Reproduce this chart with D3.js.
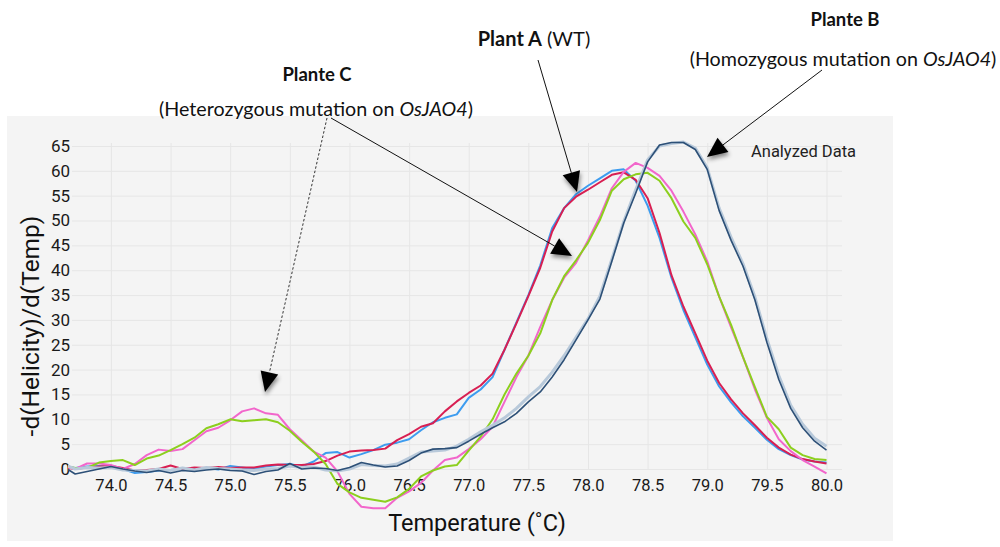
<!DOCTYPE html>
<html>
<head>
<meta charset="utf-8">
<script src="https://cdn.jsdelivr.net/npm/d3@7"></script>
<style>
  html, body { margin: 0; padding: 0; background: #ffffff; }
  svg { display: block; }
</style>
</head>
<body>
<svg id="chart" width="1000" height="547"></svg>
<script>
// Melt-curve derivative traces, one value per 0.1 °C step
const temps = [73.6, 73.7, 73.8, 73.9, 74.0, 74.1, 74.2, 74.3, 74.4, 74.5, 74.6, 74.7, 74.8, 74.9,
  75.0, 75.1, 75.2, 75.3, 75.4, 75.5, 75.6, 75.7, 75.8, 75.9, 76.0, 76.1, 76.2, 76.3, 76.4, 76.5,
  76.6, 76.7, 76.8, 76.9, 77.0, 77.1, 77.2, 77.3, 77.4, 77.5, 77.6, 77.7, 77.8, 77.9, 78.0, 78.1,
  78.2, 78.3, 78.4, 78.5, 78.6, 78.7, 78.8, 78.9, 79.0, 79.1, 79.2, 79.3, 79.4, 79.5, 79.6, 79.7,
  79.8, 79.9, 80.0];

// Plant A (WT), two wells
const plantA1 = [0.5, 0.2, 0.5, 0.6, 0.4, 0.0, -0.8, -0.6, -0.3, -0.2, 0.1, 0.0, 0.2, -0.1,
  0.6, 0.3, 0.0, 0.5, 0.8, 1.0, 0.5, 1.5, 3.2, 3.4, 2.3, 3.0, 3.8, 4.9, 5.3, 6.0,
  7.8, 9.4, 10.3, 11.0, 14.3, 16.0, 18.5, 24.0, 29.5, 35.0, 41.0, 48.5, 52.5, 55.3, 57.0, 58.5,
  60.0, 60.3, 58.0, 53.0, 46.5, 38.5, 32.0, 26.5, 21.0, 16.6, 13.4, 10.6, 8.3, 5.9, 4.0, 2.8,
  1.9, 1.5, 1.3];
const plantA2 = [0.3, 0.0, 0.3, 0.5, 0.6, 0.2, -0.3, -0.2, 0.0, 0.7, 0.0, 0.3, 0.2, 0.4,
  0.2, 0.3, 0.3, 0.7, 0.9, 0.8, 0.8, 1.0, 1.6, 2.7, 3.5, 3.7, 3.8, 4.1, 5.8, 7.0,
  8.5, 9.2, 11.6, 13.6, 15.3, 16.8, 19.2, 24.0, 29.3, 34.8, 40.5, 47.8, 52.5, 54.8, 56.2, 57.7,
  59.2, 59.7, 58.2, 54.5, 47.5, 39.0, 32.7, 27.3, 21.8, 17.3, 14.0, 11.2, 8.8, 6.3, 4.3, 2.9,
  2.0, 1.5, 1.1];

// Plante C (heterozygous), two wells
const plantC1 = [0.5, 0.0, 1.1, 1.1, 0.8, 0.0, 1.0, 2.8, 3.9, 3.6, 4.0, 5.8, 7.6, 8.3,
  9.8, 11.6, 12.2, 11.2, 10.9, 8.0, 5.8, 3.5, 2.3, -0.5, -5.0, -7.6, -7.9, -7.9, -5.8, -4.5,
  -2.8, -0.3, 1.8, 2.3, 4.0, 6.0, 8.5, 13.5, 18.5, 22.8, 28.6, 34.0, 38.5, 41.5, 46.0, 50.8,
  56.5, 59.8, 61.6, 60.6, 59.0, 56.0, 51.8, 47.2, 41.8, 34.7, 28.5, 22.5, 16.0, 10.3, 6.0, 3.6,
  1.8, 0.5, -0.9];
const plantC2 = [0.7, 0.2, 0.2, 1.3, 1.6, 1.8, 0.8, 2.1, 2.7, 3.8, 5.0, 6.3, 8.2, 9.0,
  10.0, 9.6, 9.8, 10.0, 9.4, 7.7, 5.5, 3.5, 1.0, -3.0, -4.7, -5.8, -6.2, -6.6, -5.7, -4.0,
  -1.5, -0.3, 0.5, 0.8, 3.7, 6.5, 10.0, 15.0, 19.2, 22.8, 27.3, 34.0, 38.8, 42.0, 45.5, 50.1,
  56.0, 58.3, 59.3, 59.6, 58.0, 54.5, 49.8, 46.5, 41.2, 34.7, 29.0, 22.5, 16.5, 10.5, 8.0, 4.3,
  2.8, 2.0, 1.8];

// Plante B (homozygous), two wells
const plantB1 = [0.5, -1.0, -0.5, 0.0, 0.5, 0.0, -0.4, -0.7, -0.3, -0.8, -0.3, -0.5, -0.2, 0.0,
  -0.3, -0.4, -1.1, -0.5, -0.2, 1.1, 0.0, 0.2, 0.1, -0.3, 0.3, 1.3, 0.8, 0.4, 0.6, 1.7,
  3.2, 4.0, 4.1, 4.3, 5.6, 7.0, 8.3, 9.5, 11.2, 13.5, 15.5, 18.5, 22.0, 26.0, 30.0, 34.2,
  41.8, 49.5, 55.5, 61.8, 65.2, 65.7, 65.7, 64.3, 60.3, 52.0, 46.0, 40.8, 34.0, 25.5, 18.0, 12.2,
  8.3, 5.6, 3.8];
const plantB2 = [1.0, 0.0, 0.3, 0.2, 0.3, -0.2, -0.3, -0.4, 0.0, -0.3, 0.2, -0.2, 0.3, 0.1,
  0.0, -0.2, -0.3, 0.0, 0.1, 0.6, 0.3, 0.4, -0.2, -0.4, 0.0, 0.9, 0.7, 0.6, 1.0, 2.2,
  3.4, 3.6, 3.8, 4.6, 6.0, 7.5, 8.8, 10.3, 12.2, 14.5, 16.6, 19.5, 22.8, 26.5, 30.2, 34.8,
  42.2, 49.8, 56.2, 62.2, 65.0, 65.5, 65.8, 64.6, 60.6, 52.5, 46.6, 41.3, 34.6, 26.2, 18.8, 12.8,
  9.0, 6.2, 4.6];

const yTicks = [0, 5, 10, 15, 20, 25, 30, 35, 40, 45, 50, 55, 60, 65];
const xTicks = [74.0, 74.5, 75.0, 75.5, 76.0, 76.5, 77.0, 77.5, 78.0, 78.5, 79.0, 79.5, 80.0];

const series = [
  { name: "Plant A 1", values: plantA1, color: "#3d9cef", width: 2 },
  { name: "Plant A 2", values: plantA2, color: "#d81f52", width: 2 },
  { name: "Plante C 1", values: plantC1, color: "#f266cb", width: 2 },
  { name: "Plante C 2", values: plantC2, color: "#8ccf1e", width: 2 },
  { name: "Plante B 2", values: plantB2, color: "#b8c9da", width: 3 },
  { name: "Plante B 1", values: plantB1, color: "#2d5077", width: 1.6 }
];

const svg = d3.select("#chart");
const plotLeft = 68, plotRight = 842, plotTop = 146, plotBottom = 469;

const x = d3.scaleLinear().domain([73.64, 80.13]).range([plotLeft, plotRight]);
const y = d3.scaleLinear().domain([0, 65]).range([plotBottom, plotTop]);

// panel
svg.append("rect").attr("x", 7).attr("y", 116).attr("width", 886).attr("height", 425)
  .attr("fill", "#f4f4f4");

const defs = svg.append("defs");
defs.append("clipPath").attr("id", "plotClip")
  .append("rect").attr("x", plotLeft).attr("y", 100).attr("width", plotRight - plotLeft).attr("height", 440);

const shadow = defs.append("filter").attr("id", "headShadow")
  .attr("x", "-50%").attr("y", "-50%").attr("width", "200%").attr("height", "200%");
shadow.append("feDropShadow").attr("dx", 1).attr("dy", 3).attr("stdDeviation", 2.2)
  .attr("flood-color", "#000").attr("flood-opacity", 0.45);

// grid
const gridY = svg.append("g").attr("transform", `translate(${plotLeft + 4},0)`)
  .call(d3.axisLeft(y).tickValues(yTicks).tickSize(-(plotRight - plotLeft - 4)).tickFormat(""));
gridY.select(".domain").remove();
gridY.selectAll("line").attr("stroke", "#e6e6e6").attr("stroke-width", 1);

const gridX = svg.append("g").attr("transform", `translate(0,${plotBottom})`)
  .call(d3.axisBottom(x).tickValues(xTicks).tickSize(-(plotBottom - plotTop + 3)).tickFormat(""));
gridX.select(".domain").remove();
gridX.selectAll("line").attr("stroke", "#e6e6e6").attr("stroke-width", 1);

// tick labels
const yAxis = svg.append("g").attr("transform", `translate(${plotLeft + 2},0)`)
  .call(d3.axisLeft(y).tickValues(yTicks).tickSize(0).tickPadding(0).tickFormat(d3.format("d")));
yAxis.select(".domain").remove();
yAxis.selectAll("text").attr("font-family", "Roboto, sans-serif").attr("font-size", 17)
  .attr("fill", "#1a1a1a");

const xAxis = svg.append("g").attr("transform", `translate(0,${plotBottom + 10})`)
  .call(d3.axisBottom(x).tickValues(xTicks).tickSize(0).tickPadding(0).tickFormat(d3.format(".1f")));
xAxis.select(".domain").remove();
xAxis.selectAll("text").attr("font-family", "Roboto, sans-serif").attr("font-size", 16.5)
  .attr("fill", "#1a1a1a");

// axis titles
svg.append("text").attr("x", 477).attr("y", 531).attr("text-anchor", "middle")
  .attr("font-family", "Roboto, sans-serif").attr("font-size", 23.5).attr("fill", "#111")
  .text("Temperature (˚C)");
svg.append("text").attr("transform", "translate(39,326) rotate(-90)").attr("text-anchor", "middle")
  .attr("font-family", "Roboto, sans-serif").attr("font-size", 24.5).attr("fill", "#111")
  .text("-d(Helicity)/d(Temp)");

svg.append("text").attr("x", 751).attr("y", 157)
  .attr("font-family", "Roboto, sans-serif").attr("font-size", 16.5).attr("fill", "#222")
  .text("Analyzed Data");

// curves
const line = d3.line()
  .x((d, i) => x(temps[i]))
  .y(d => y(d));

const curves = svg.append("g").attr("clip-path", "url(#plotClip)");
series.forEach(s => {
  curves.append("path")
    .datum(s.values)
    .attr("fill", "none")
    .attr("stroke", s.color)
    .attr("stroke-width", s.width)
    .attr("stroke-linejoin", "round")
    .attr("d", line);
});

// annotations
const note = svg.append("g").attr("font-family", "Lato, 'Open Sans', sans-serif").attr("fill", "#111");

function label(xc, yc, parts, size) {
  const t = note.append("text").attr("x", xc).attr("y", yc).attr("text-anchor", "middle")
    .attr("font-size", size);
  parts.forEach(p => {
    t.append("tspan").attr("font-weight", p.bold ? "bold" : "normal")
      .attr("font-style", p.italic ? "italic" : "normal").text(p.text);
  });
}

label(317, 81, [{ text: "Plante C", bold: true }], 18.5);
label(316, 116, [{ text: "(Heterozygous mutation on " }, { text: "OsJAO4", italic: true }, { text: ")" }], 19.7);
label(534, 46, [{ text: "Plant A", bold: true }, { text: " (WT)" }], 20);
label(845, 26, [{ text: "Plante B", bold: true }], 18.5);
label(843, 66, [{ text: "(Homozygous mutation on " }, { text: "OsJAO4", italic: true }, { text: ")" }], 19.7);

// arrows: [x1, y1, x2, y2, dashed]
const arrows = [
  [538, 60, 577, 192, false],
  [822, 70, 707, 157, false],
  [331, 118, 572, 256, false],
  [327, 118, 265, 392, true]
];

const arrowG = svg.append("g");
arrows.forEach(([x1, y1, x2, y2, dashed]) => {
  const ang = Math.atan2(y2 - y1, x2 - x1);
  const len = 20, half = 9;
  const bx = x2 - len * Math.cos(ang), by = y2 - len * Math.sin(ang);
  arrowG.append("line")
    .attr("x1", x1).attr("y1", y1).attr("x2", bx).attr("y2", by)
    .attr("stroke", dashed ? "#333" : "#111").attr("stroke-width", 1)
    .attr("stroke-dasharray", dashed ? "2.5,2" : null);
  const px = -Math.sin(ang) * half, py = Math.cos(ang) * half;
  arrowG.append("path")
    .attr("d", `M${x2},${y2}L${bx + px},${by + py}L${bx - px},${by - py}Z`)
    .attr("fill", "#000")
    .attr("filter", "url(#headShadow)");
});
</script>
</body>
</html>
